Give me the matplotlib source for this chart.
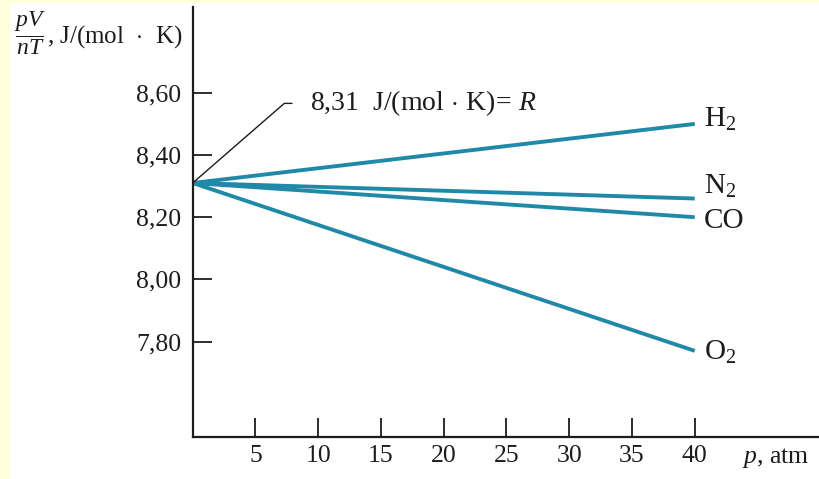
import matplotlib
matplotlib.use('Agg')
import matplotlib.pyplot as plt
from matplotlib.patches import Rectangle

# data
pressure = [0, 40]                       # atm
gases = ['H$_2$', 'N$_2$', 'CO', 'O$_2$']
pv_nt = {
    'H$_2$': [8.31, 8.50],
    'N$_2$': [8.31, 8.26],
    'CO':    [8.31, 8.20],
    'O$_2$': [8.31, 7.77],
}
label_y = {'H$_2$': 8.515, 'N$_2$': 8.30, 'CO': 8.187, 'O$_2$': 7.765}
R = 8.31
x_ticks = [5, 10, 15, 20, 25, 30, 35, 40]
y_ticks = [7.80, 8.00, 8.20, 8.40, 8.60]
y_ticklabels = ['7,80', '8,00', '8,20', '8,40', '8,60']

plt.rcParams['font.family'] = ['Liberation Serif', 'DejaVu Serif']
plt.rcParams['mathtext.fontset'] = 'custom'
plt.rcParams['mathtext.rm'] = 'Liberation Serif'
plt.rcParams['mathtext.it'] = 'Liberation Serif:italic'

ink = '#1c1c1c'
teal = '#2189a8'

fig = plt.figure(figsize=(8.19, 4.79), dpi=100, facecolor='white')
# pale yellow border of the scan
fig.patches.append(Rectangle((0, 0), 9 / 819, 1, transform=fig.transFigure,
                             color='#ffffdc', zorder=-1))
fig.patches.append(Rectangle((0, 1 - 2 / 479), 1, 2 / 479, transform=fig.transFigure,
                             color='#ffffdc', zorder=-1))

ax = fig.add_axes([192.7 / 819, 42 / 479, 1 - 192.7 / 819, 430 / 479])
ax.set_facecolor('none')

for g in gases:
    ax.plot(pressure, pv_nt[g], color=teal, lw=2.8, solid_capstyle='butt')
    ax.text(40.7, label_y[g], g, fontsize=21, color=ink, ha='left', va='center')

ax.set_xlim(0, 49.9)
ax.set_ylim(7.493, 8.876)

ax.set_xticks(x_ticks)
ax.set_xticklabels([str(v) for v in x_ticks])
ax.set_yticks(y_ticks)
ax.set_yticklabels(y_ticklabels)
ax.tick_params(axis='both', direction='in', length=13.5, width=1.3, colors=ink,
               labelsize=18.5)
ax.tick_params(axis='y', pad=8)
ax.tick_params(axis='x', pad=6)

for side in ['top', 'right']:
    ax.spines[side].set_visible(False)
for side in ['left', 'bottom']:
    ax.spines[side].set_color(ink)
    ax.spines[side].set_linewidth(1.6)

ax.annotate(r'8,31  J/(mol$\,\cdot\,$K)$\!=\,$$R$', xy=(0, R), xytext=(9.35, 8.566),
            fontsize=20, color=ink, ha='left', va='center',
            arrowprops=dict(arrowstyle='-', color=ink, lw=1.0,
                            connectionstyle='angle,angleA=0,angleB=41,rad=0',
                            relpos=(0, 0.5), shrinkA=11, shrinkB=0))

fig.text(742 / 819, 1 - 458 / 479, r'$p$, atm', fontsize=18.5, color=ink,
         ha='left', va='center')
fig.text(14 / 819, 1 - 34 / 479, r'$\dfrac{pV}{nT}$', fontsize=17, color=ink,
         ha='left', va='center')
fig.text(47 / 819, 1 - 37 / 479, r', J/(mol  $\cdot$  K)', fontsize=18, color=ink,
         ha='left', va='center')

fig.savefig('out.png', dpi=100, facecolor=fig.get_facecolor())
